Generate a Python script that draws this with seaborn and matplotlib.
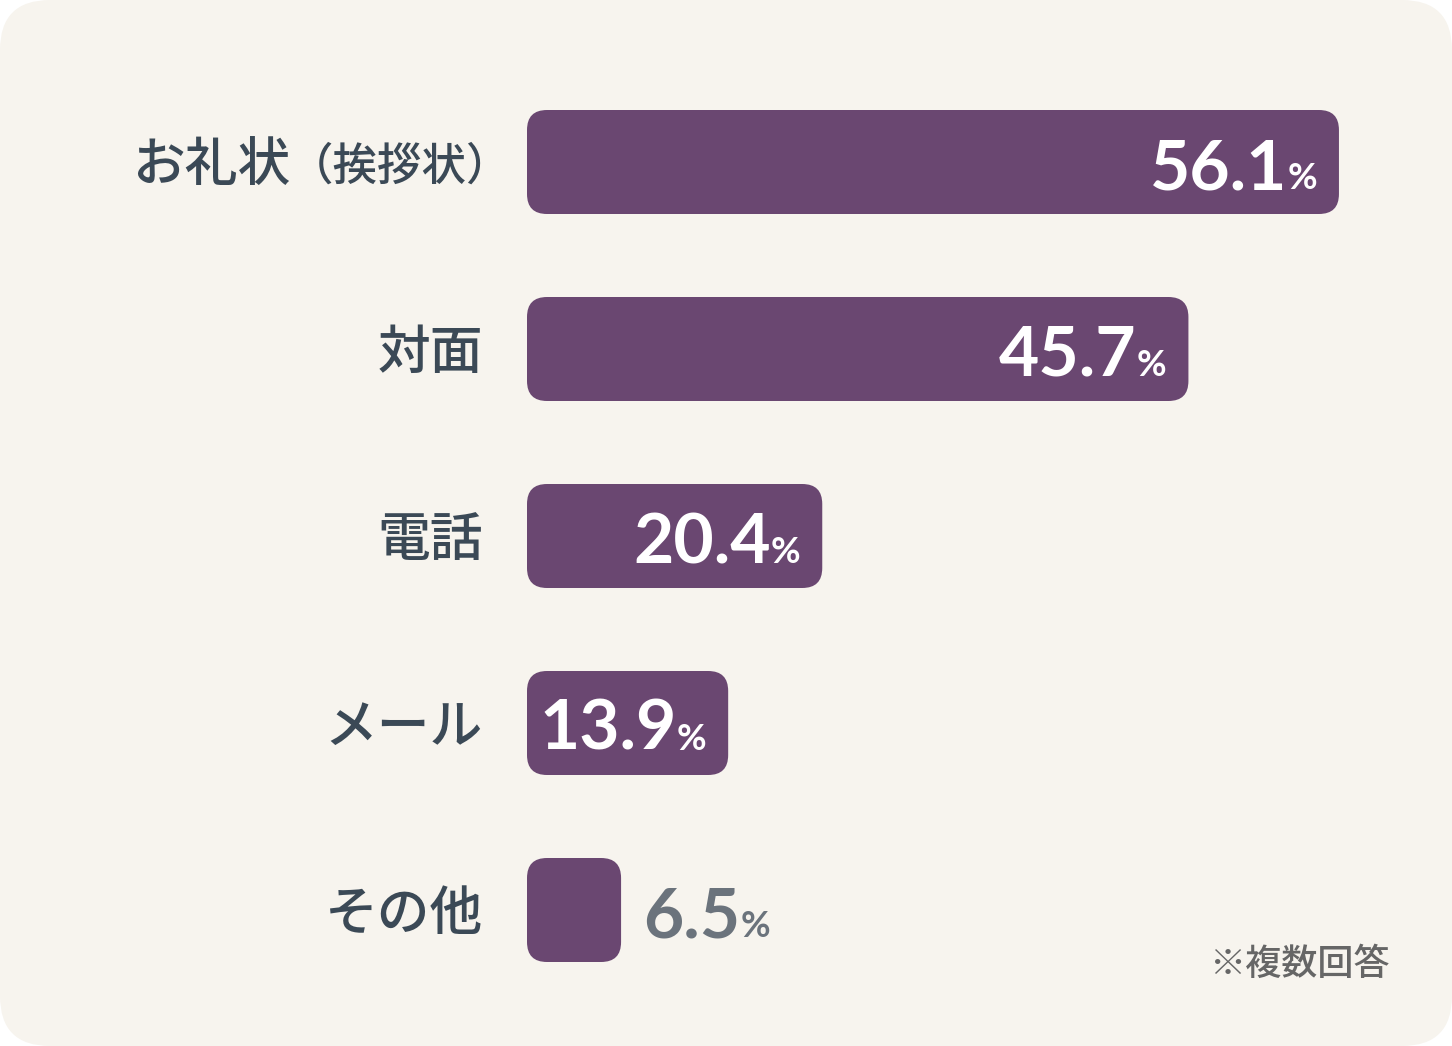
import matplotlib
matplotlib.use('Agg')
import matplotlib.pyplot as plt
import seaborn as sns
from matplotlib.patches import FancyBboxPatch

# data
categories = ['お礼状（挨拶状）', '対面', '電話', 'メール', 'その他']
values = [56.1, 45.7, 20.4, 13.9, 6.5]
note = '※複数回答'

bar_color = '#6A4771'
label_color = '#3B4956'
bg_color = '#F7F4EE'
outside_color = '#6B737C'

sns.set_style('white')
plt.rcParams['font.family'] = ['Noto Sans CJK JP', 'DejaVu Sans']

W, H = 1452, 1046
fig = plt.figure(figsize=(W / 100, H / 100), dpi=100)
fig.patch.set_facecolor('white')

# rounded card behind everything
card = FancyBboxPatch((0, 0), 1, 1, boxstyle=f'round,pad=0,rounding_size={50 / W}',
                      mutation_aspect=W / H, transform=fig.transFigure,
                      fc=bg_color, ec='none', zorder=-10)
fig.add_artist(card)

# axes: x=0 at 527px, one category step = 187px
xmax = 60
px_x = 868.4 / xmax
px_y = 187
ax = fig.add_axes([527 / W, (H - 1003.5) / H, 868.4 / W, 935 / H])
ax.set_facecolor('none')

sns.barplot(x=values, y=categories, orient='h', color=bar_color, saturation=1,
            width=104 / 187, ax=ax)
ax.set_xlim(0, xmax)
ax.set_ylim(4.5, -0.5)
ax.axis('off')

# swap plain bars for rounded ones
rs = 20
for p in list(ax.patches):
    x0, y0, w, h = p.get_x(), p.get_y(), p.get_width(), p.get_height()
    p.remove()
    ax.add_patch(FancyBboxPatch((x0, y0), w, h,
                                boxstyle=f'round,pad=0,rounding_size={rs / px_x}',
                                mutation_aspect=px_x / px_y,
                                fc=bar_color, ec='none'))

# category labels
lab_kw = dict(textcoords='offset pixels', ha='right', va='center',
              color=label_color, weight='medium')
for i, cat in enumerate(categories):
    if '（' in cat:
        main, sub = cat.split('（')
        t = ax.annotate('（' + sub, xy=(0, i), xytext=(-16, -5), fontsize=32, **lab_kw)
        ax.annotate(main, xy=(0, i), xycoords=(t, 'data'), xytext=(2, -5),
                    fontsize=38, **lab_kw)
    else:
        ax.annotate(cat, xy=(0, i), xytext=(-44, -5), fontsize=38, **lab_kw)

# value labels
num_kw = dict(textcoords='offset pixels', va='baseline', family='Lato', weight='bold')
for i, v in enumerate(values):
    if v > 10:
        pct = ax.annotate('%', xy=(v, i), xytext=(-22, -27), ha='right',
                          fontsize=26, color='white', **num_kw)
        ax.annotate(f'{v:.1f}', xy=(0, i), xycoords=(pct, 'data'), xytext=(0, -27),
                    ha='right', fontsize=50, color='white', **num_kw)
    else:
        num = ax.annotate(f'{v:.1f}', xy=(v, i), xytext=(22, -27), ha='left',
                          fontsize=50, color=outside_color, **num_kw)
        ax.annotate('%', xy=(1, i), xycoords=(num, 'data'), xytext=(0, -27),
                    ha='left', fontsize=26, color=outside_color, **num_kw)

fig.text(1390 / W, 1 - 965 / H, note, ha='right', va='center', fontsize=26,
         color='#666666', weight='medium')

fig.savefig('out.png', dpi=100, facecolor='white')
